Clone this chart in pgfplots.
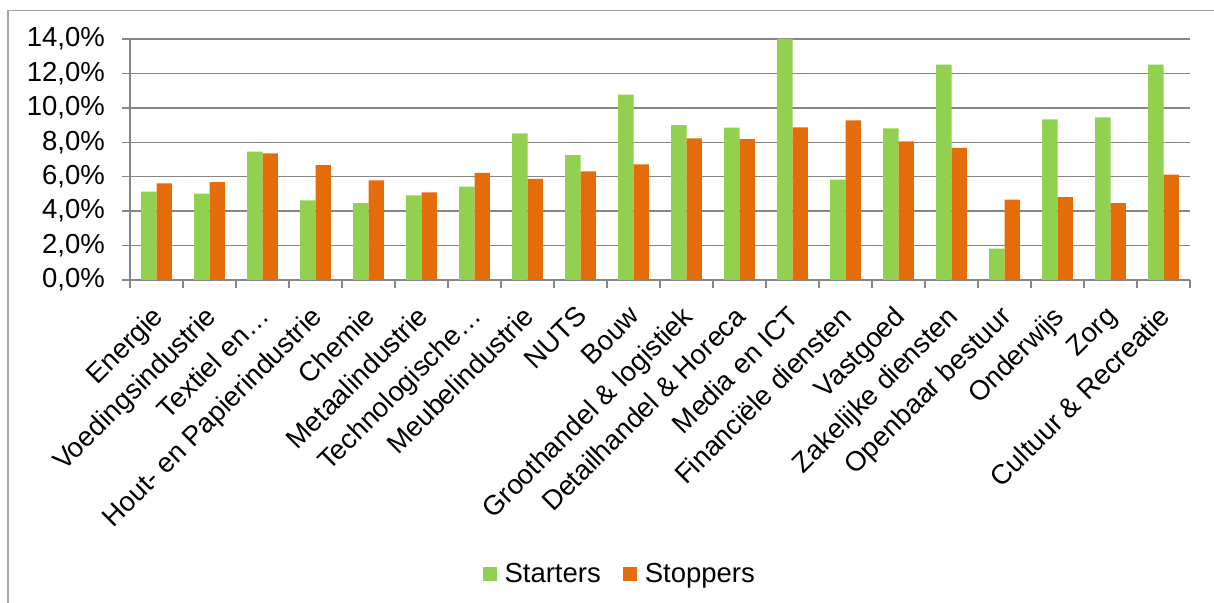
\documentclass[border=0pt]{standalone}
\usepackage{fontspec}
\setmainfont{Liberation Sans}
\usepackage{pgfplots}
\usepackage{pgfplotstable}
\pgfplotsset{compat=1.18}

\definecolor{starters}{HTML}{92D050}
\definecolor{stoppers}{HTML}{E46C0A}
\definecolor{gridgray}{HTML}{868686}
\definecolor{framegray}{HTML}{A6A6A6}

% Share of starting and stopping firms per sector (%)
\pgfplotstableread{
idx starters stoppers
0  5.13  5.62
1  5.02  5.69
2  7.46  7.36
3  4.63  6.68
4  4.47  5.79
5  4.92  5.09
6  5.42  6.22
7  8.52  5.87
8  7.26  6.31
9  10.77 6.72
10 8.99  8.23
11 8.85  8.19
12 14.00 8.87
13 5.83  9.28
14 8.81  8.06
15 12.51 7.67
16 1.82  4.67
17 9.33  4.82
18 9.45  4.47
19 12.51 6.12
}\sectordata

\newcommand{\chartfont}{\fontsize{27.5bp}{32bp}\selectfont}

\begin{document}
\begin{tikzpicture}
\useasboundingbox (0bp,0bp) rectangle (1214bp,603bp);
\fill[white] (0bp,0bp) rectangle (1214bp,603bp);
\draw[framegray, line width=1.5bp] (8bp,-5bp) -- (8bp,592.3bp) -- (1220bp,592.3bp);
\begin{axis}[
  at={(130bp,323bp)}, anchor=south west,
  scale only axis, width=1060bp, height=241bp,
  ybar=0pt, bar width=15.3bp,
  xmin=-0.5, xmax=19.5, ymin=0, ymax=14,
  axis lines=left,
  axis line style={-, draw=gridgray, line width=1.5bp},
  ytick={0,2,...,14},
  yticklabels={{0,0\%},{2,0\%},{4,0\%},{6,0\%},{8,0\%},{10,0\%},{12,0\%},{14,0\%}},
  xtick={0,...,19},
  xticklabels={Energie, Voedingsindustrie, Textiel en…, Hout- en Papierindustrie,
    Chemie, Metaalindustrie, Technologische…, Meubelindustrie, NUTS, Bouw,
    Groothandel \& logistiek, Detailhandel \& Horeca, Media en ICT,
    Financiële diensten, Vastgoed, Zakelijke diensten, Openbaar bestuur,
    Onderwijs, Zorg, Cultuur \& Recreatie},
  minor xtick={-0.5,0.5,...,19.5},
  tick align=outside,
  major tick length=8bp, minor tick length=8bp,
  tick style={draw=gridgray, line width=1.5bp},
  major x tick style={draw=none},
  ymajorgrids,
  major grid style={draw=gridgray, line width=1.5bp},
  tick label style={font=\chartfont, text=black},
  yticklabel style={inner sep=0pt, xshift=-17bp},
  % shifts are measured along the rotated label
  xticklabel style={rotate=45, anchor=north east, inner sep=0pt, xshift=-15.6bp, yshift=-7.1bp},
  legend style={at={(0.462,-1.22)}, anchor=center, draw=none, fill=none,
    font=\chartfont, legend columns=2,
    /tikz/every even column/.append style={column sep=20bp}},
  legend image code/.code={\fill[#1] (0bp,-7bp) rectangle (14bp,7bp);
    \path (0bp,0bp) -- (20bp,0bp);},
]
\addplot[fill=starters, draw=none] table[x=idx, y=starters]{\sectordata};
\addplot[fill=stoppers, draw=none] table[x=idx, y=stoppers]{\sectordata};
\legend{Starters, Stoppers}
\end{axis}
\end{tikzpicture}
\end{document}
